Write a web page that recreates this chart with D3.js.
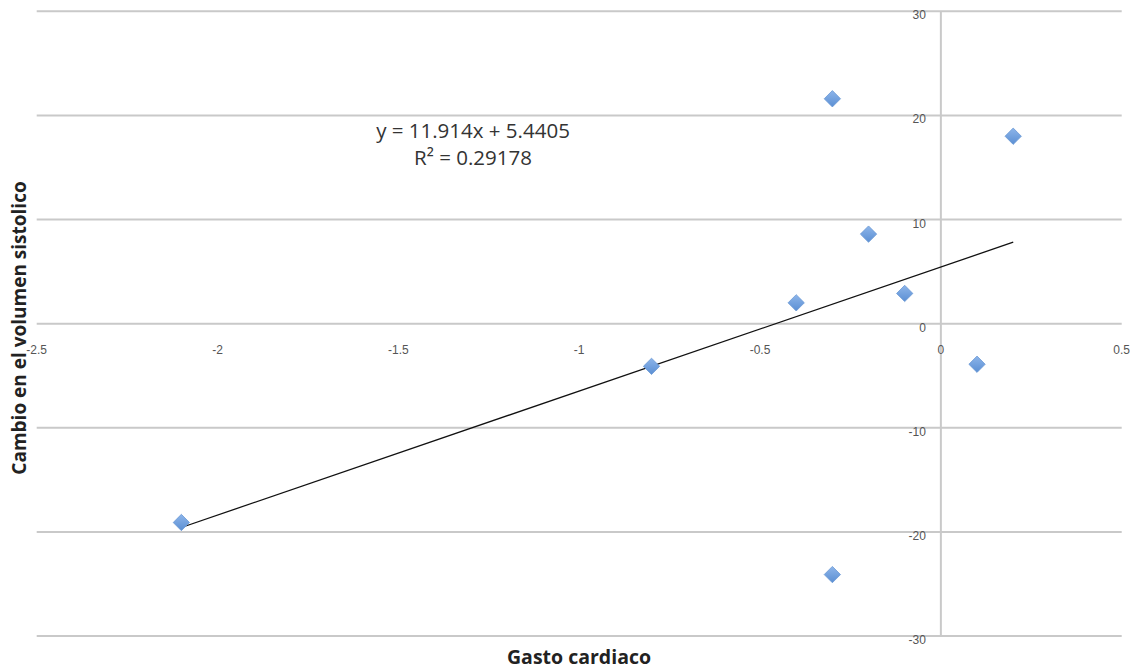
<!DOCTYPE html>
<html>
<head>
<meta charset="utf-8">
<script src="https://cdn.jsdelivr.net/npm/d3@7"></script>
<style>
  html, body { margin: 0; padding: 0; background: #fff; }
  svg { display: block; }
</style>
</head>
<body>
<svg id="chart" width="1138" height="670"></svg>
<script>
// Gasto cardiaco vs cambio en el volumen sistólico
const gastoCardiaco = [-2.1, -0.8, -0.4, -0.3, -0.3, -0.2, -0.1, 0.1, 0.2];
const cambioVolumen = [-19.1, -4.1, 2.0, 21.6, -24.1, 8.6, 2.9, -3.9, 18.0];

// Linear trendline (label text and line share these numbers)
const slope = 11.914;
const intercept = 5.4405;
const rSquared = 0.29178;

const xTicks = [-2.5, -2, -1.5, -1, -0.5, 0, 0.5];
const yTicks = [-30, -20, -10, 0, 10, 20, 30];

const svg = d3.select("#chart");

const x = d3.scaleLinear().domain([-2.5, 0.5]).range([36.7, 1121.7]);
const y = d3.scaleLinear().domain([-30, 30]).range([636, 11.3]);

const gridColor = "#c9c9c9";
const labelColor = "#555";
const sans = "Liberation Sans, Arial, Helvetica, sans-serif";
const humanist = "Open Sans, Noto Sans, sans-serif";

// Horizontal gridlines
svg.append("g")
  .selectAll("line")
  .data(yTicks)
  .join("line")
  .attr("x1", x(-2.5))
  .attr("x2", x(0.5))
  .attr("y1", d => y(d))
  .attr("y2", d => y(d))
  .attr("stroke", gridColor)
  .attr("stroke-width", 2);

// Vertical axis at x = 0
svg.append("line")
  .attr("x1", x(0)).attr("x2", x(0))
  .attr("y1", y(30)).attr("y2", y(-30))
  .attr("stroke", gridColor)
  .attr("stroke-width", 2);

// Y tick labels beside the vertical axis
svg.append("g")
  .selectAll("text")
  .data(yTicks)
  .join("text")
  .attr("x", x(0) - 15)
  .attr("y", d => y(d) + 8)
  .attr("text-anchor", "end")
  .attr("font-family", sans)
  .attr("font-size", 12)
  .attr("fill", labelColor)
  .text(d => d);

// X tick labels below the zero line
svg.append("g")
  .selectAll("text")
  .data(xTicks)
  .join("text")
  .attr("x", d => x(d))
  .attr("y", y(0) + 30)
  .attr("text-anchor", "middle")
  .attr("font-family", sans)
  .attr("font-size", 12)
  .attr("fill", labelColor)
  .text(d => d);

// Trendline across the data range
const xMin = d3.min(gastoCardiaco), xMax = d3.max(gastoCardiaco);
svg.append("line")
  .attr("x1", x(xMin)).attr("y1", y(slope * xMin + intercept))
  .attr("x2", x(xMax)).attr("y2", y(slope * xMax + intercept))
  .attr("stroke", "#111")
  .attr("stroke-width", 1.3);

// Diamond markers
const defs = svg.append("defs");
const grad = defs.append("linearGradient")
  .attr("id", "markerFill")
  .attr("x1", "0").attr("y1", "0").attr("x2", "0").attr("y2", "1");
grad.append("stop").attr("offset", "0%").attr("stop-color", "#8db5ea");
grad.append("stop").attr("offset", "100%").attr("stop-color", "#5b8fd3");

const diamond = d3.symbol().type(d3.symbolDiamond2).size(170);
const points = gastoCardiaco.map((g, i) => ({ g, c: cambioVolumen[i] }));

svg.append("g")
  .selectAll("path")
  .data(points)
  .join("path")
  .attr("transform", d => `translate(${x(d.g)},${y(d.c)})`)
  .attr("d", diamond)
  .attr("fill", "url(#markerFill)")
  .attr("stroke", "#6a98d4")
  .attr("stroke-width", 0.8);

// Trendline equation
const eq = svg.append("text")
  .attr("text-anchor", "middle")
  .attr("font-family", humanist)
  .attr("font-size", 20.5)
  .attr("fill", "#333");
eq.append("tspan").attr("x", 473).attr("y", 138)
  .text(`y = ${slope}x + ${intercept}`);
eq.append("tspan").attr("x", 473).attr("y", 165)
  .text(`R² = ${rSquared}`);

// Axis titles
svg.append("text")
  .attr("x", 579)
  .attr("y", 664)
  .attr("text-anchor", "middle")
  .attr("font-family", humanist)
  .attr("font-weight", "bold")
  .attr("font-size", 19.5)
  .attr("fill", "#222")
  .text("Gasto cardiaco");

svg.append("text")
  .attr("transform", "translate(26,328) rotate(-90)")
  .attr("text-anchor", "middle")
  .attr("font-family", humanist)
  .attr("font-weight", "bold")
  .attr("font-size", 19)
  .attr("fill", "#222")
  .text("Cambio en el volumen sistolico");
</script>
</body>
</html>
